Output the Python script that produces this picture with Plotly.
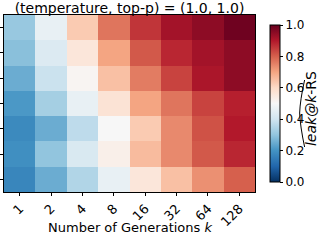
import plotly.graph_objects as go

k_labels = ["1", "2", "4", "8", "16", "32", "64", "128"]
row_labels = ["row 1", "row 2", "row 3", "row 4", "row 5", "row 6", "row 7"]

row1 = [0.31, 0.46, 0.63, 0.77, 0.86, 0.92, 0.95, 0.99]
row2 = [0.29, 0.43, 0.56, 0.70, 0.81, 0.88, 0.92, 0.95]
row3 = [0.25, 0.39, 0.51, 0.65, 0.76, 0.84, 0.91, 0.95]
row4 = [0.21, 0.33, 0.46, 0.57, 0.70, 0.77, 0.84, 0.89]
row5 = [0.18, 0.25, 0.37, 0.50, 0.63, 0.74, 0.82, 0.90]
row6 = [0.19, 0.30, 0.42, 0.53, 0.66, 0.74, 0.81, 0.88]
row7 = [0.17, 0.25, 0.35, 0.46, 0.56, 0.65, 0.73, 0.80]
z = [row1, row2, row3, row4, row5, row6, row7]

rdbu_r = ["#053061", "#2166ac", "#4393c3", "#92c5de", "#d1e5f0", "#f7f7f7",
          "#fddbc7", "#f4a582", "#d6604d", "#b2182b", "#67001f"]
colorscale = [[i / 10, c] for i, c in enumerate(rdbu_r)]

W, H = 319, 241
L, R, T, B = 4, 257, 15, 192
pw, ph = R - L, B - T


def px(x):
    return (x - L) / pw


def py(y):
    return (B - y) / ph


font = "DejaVu Sans"

fig = go.Figure(go.Heatmap(
    z=z, x=k_labels, y=row_labels,
    colorscale=colorscale, zmin=0, zmax=1,
    colorbar=dict(
        x=px(262), xanchor="left", thickness=10, thicknessmode="pixels",
        len=1, lenmode="fraction", y=0.5, yanchor="middle",
        tickvals=[0, 0.2, 0.4, 0.6, 0.8, 1.0],
        ticktext=["0.0", "0.2", "0.4", "0.6", "0.8", "1.0"],
        ticks="outside", ticklen=3, tickwidth=1, tickcolor="black",
        tickfont=dict(family=font, size=12, color="black"),
        outlinewidth=1, outlinecolor="black",
    ),
))

fig.update_layout(
    width=W, height=H,
    margin=dict(l=L, r=W - R, t=T, b=H - B, pad=0),
    paper_bgcolor="white", plot_bgcolor="white",
    font=dict(family=font, color="black"),
    title=dict(text="(temperature, top-p) = (1.0, 1.0)", x=px(130.5), xanchor="center",
               xref="paper", y=1 - 8 / H, yref="container", yanchor="middle",
               font=dict(family=font, size=14, color="black")),
    xaxis=dict(tickangle=-45, ticks="outside", ticklen=3, tickcolor="black",
               tickfont=dict(family=font, size=13, color="black"),
               showline=True, linecolor="black", linewidth=1, mirror=True,
               automargin=False),
    yaxis=dict(autorange="reversed", ticks="outside", ticklen=3, tickcolor="black",
               showticklabels=False,
               showline=True, linecolor="black", linewidth=1, mirror=True,
               automargin=False),
    annotations=[
        dict(text="Number of Generations <i>k</i>", x=px(130.5), y=py(227),
             xref="paper", yref="paper", showarrow=False, xanchor="center",
             yanchor="middle", font=dict(family=font, size=13, color="black")),
        dict(text="<i>leak@k</i>-RS", x=px(313.5), y=py(109), textangle=-90,
             xref="paper", yref="paper", showarrow=False, xanchor="center",
             yanchor="middle", font=dict(family=font, size=14, color="black")),
    ],
    shapes=[
        dict(type="path", xref="paper", yref="paper",
             path=f"M {px(307)} {py(80)} Q {px(302.5)} {py(100)} {px(302)} {py(113)} "
                  f"Q {px(302.5)} {py(126)} {px(307)} {py(147)}",
             line=dict(color="black", width=1)),
    ],
)

fig.write_html("out.html", config={"displayModeBar": False},
               post_script="document.body.style.margin='0px';")
